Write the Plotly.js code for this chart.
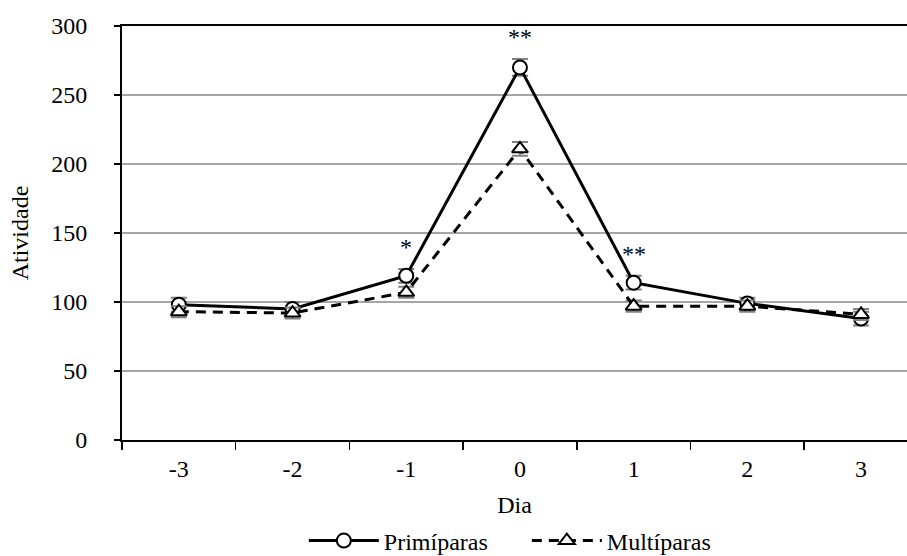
<!DOCTYPE html>
<html>
<head>
<meta charset="utf-8">
<script src="https://cdn.plot.ly/plotly-3.0.1.min.js"></script>
<style>html,body{margin:0;padding:0;background:#fff;}#chart{width:907px;height:556px;}</style>
</head>
<body>
<div id="chart"></div>
<script>
// Data
const dias = [-3, -2, -1, 0, 1, 2, 3];
const primiparas = [98, 95, 119, 270, 114, 99, 88];
const primiparasErr = [5, 5, 5, 6, 5, 4, 5];
const multiparas = [93, 92, 107, 211, 97, 97, 91];
const multiparasErr = [4, 4, 4, 5, 4, 4, 4];
const sigDias = [-1, 0, 1];
const sigLabels = ['*', '**', '**'];

const FONT = '"Liberation Serif", serif';

const traces = [
  {
    x: dias, y: primiparas, name: 'Primíparas', type: 'scatter', mode: 'lines+markers',
    line: {color: '#000', width: 3},
    marker: {symbol: 'circle', size: 14, color: '#fff', line: {color: '#000', width: 2}},
    error_y: {type: 'data', array: primiparasErr, visible: true, color: '#808080', thickness: 2, width: 8}
  },
  {
    x: dias, y: multiparas, name: 'Multíparas', type: 'scatter', mode: 'lines+markers',
    line: {color: '#000', width: 3, dash: '10px,7px'},
    marker: {symbol: 'triangle-up', size: 14, color: '#fff', line: {color: '#000', width: 2}},
    error_y: {type: 'data', array: multiparasErr, visible: true, color: '#808080', thickness: 2, width: 8}
  }
];

const annotations = sigDias.map((d, k) => {
  const i = dias.indexOf(d);
  return {
    x: d, y: primiparas[i] + primiparasErr[i], xref: 'x', yref: 'y',
    text: sigLabels[k], showarrow: false, yanchor: 'middle', yshift: 22,
    font: {family: FONT, size: 24, color: '#000'}
  };
});

const layout = {
  width: 907, height: 556,
  margin: {l: 122, r: 0, t: 26, b: 116},
  paper_bgcolor: '#fff', plot_bgcolor: '#fff',
  font: {family: FONT, size: 24, color: '#000'},
  showlegend: true,
  legend: {
    orientation: 'h', xref: 'container', yref: 'container',
    x: 0.335, xanchor: 'left', y: 0.027, yanchor: 'middle',
    font: {family: FONT, size: 24, color: '#000'},
    itemwidth: 70, entrywidth: 138, entrywidthmode: 'pixels',
    bgcolor: 'rgba(0,0,0,0)'
  },
  xaxis: {
    range: [-3.5, 3.404], tickmode: 'array', tickvals: dias, ticktext: dias.map(String),
    ticks: '', showgrid: false, zeroline: false,
    showline: true, linecolor: '#000', linewidth: 2, mirror: true,
    ticklabelstandoff: 6,
    minor: {ticks: 'outside', ticklen: 8, tickwidth: 1.5, tickcolor: '#000', tick0: 0.5, dtick: 1, showgrid: false},
    title: {text: 'Dia', standoff: 26, font: {family: FONT, size: 24, color: '#000'}},
    tickfont: {family: FONT, size: 24, color: '#000'}
  },
  yaxis: {
    range: [0, 300], tickmode: 'linear', tick0: 0, dtick: 50,
    ticks: 'outside', ticklen: 6, tickwidth: 1.5, tickcolor: '#000',
    ticklabelstandoff: 22,
    showgrid: true, gridcolor: '#a6a6a6', gridwidth: 1.5, zeroline: false,
    showline: true, linecolor: '#000', linewidth: 2,
    title: {text: 'Atividade', standoff: 16, font: {family: FONT, size: 24, color: '#000'}},
    tickfont: {family: FONT, size: 24, color: '#000'}
  },
  annotations: annotations
};

Plotly.newPlot('chart', traces, layout, {displayModeBar: false, staticPlot: true});
</script>
</body>
</html>
